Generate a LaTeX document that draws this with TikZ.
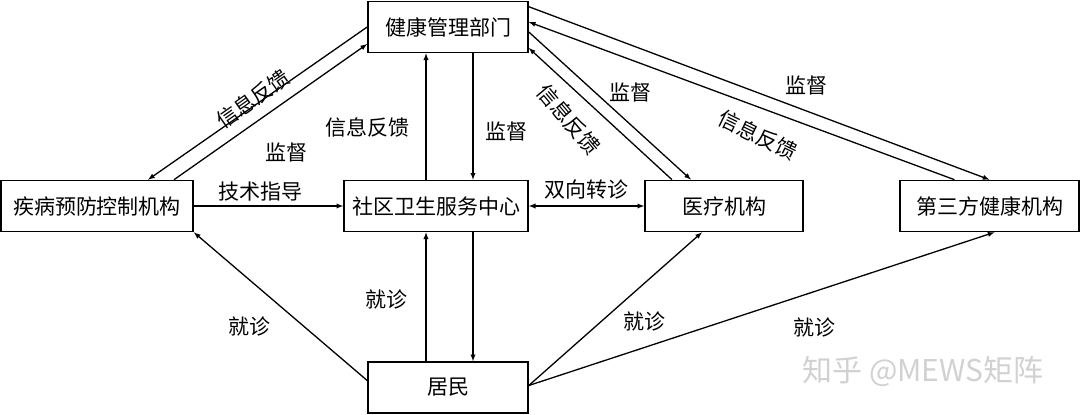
\documentclass[tikz,border=0pt]{standalone}
\usepackage{fontspec}
\setmainfont{Noto Sans CJK SC}
\usetikzlibrary{arrows}
\usetikzlibrary{positioning}

\begin{document}
\begin{tikzpicture}[x=1pt,y=-1pt,>=latex,font=\fontsize{21}{25}\selectfont]
\tikzstyle{box}=[draw,line width=1.6pt,minimum height=51pt,inner sep=0pt]
\tikzstyle{link}=[line width=1.3pt]
\useasboundingbox (0,0) rectangle (1080,415);
\node[box,minimum width=160pt] (dept) at (448,27) {健康管理部门};
\node[box,minimum width=192pt] (cdc) at (97,206) {疾病预防控制机构};
\node[box,minimum width=184pt] (center) at (436,206) {社区卫生服务中心};
\node[box,minimum width=158pt] (hospital) at (724,206) {医疗机构};
\node[box,minimum width=179pt] (third) at (989.5,206) {第三方健康机构};
\node[box,minimum width=160pt] (resident) at (448,387.5) {居民};
\draw[link,->] (dept.west) -- ([xshift=51]cdc.north);
\draw[link,->] ([xshift=77]cdc.north) -- ([yshift=-17]dept.west);
\draw[link,->] ([xshift=-10]center.north) -- ([xshift=-10]center.north |- dept.south);
\draw[link,->] ([xshift=25]dept.south) -- ([xshift=25]dept.south |- center.north);
\draw[link,->] (cdc.east) -- (cdc.east -| center.west);
\draw[link,<->] (center.east) -- (center.east -| hospital.west);
\draw[link,->] ([yshift=-5]dept.east) -- ([xshift=-33]hospital.north);
\draw[link,->] ([xshift=-52]hospital.north) -- ([yshift=-21]dept.east);
\draw[link,->] ([yshift=-6]dept.north east) -- (third.north);
\draw[link,->] ([xshift=-35]third.north) -- ([yshift=5]dept.east);
\draw[link,->] ([xshift=-22]resident.north) -- ([xshift=-22]resident.north |- center.south);
\draw[link,->] ([xshift=37]center.south) -- ([xshift=37]center.south |- resident.north);
\draw[link,->] ([yshift=7]resident.west) -- (cdc.south east);
\draw[link,->] ([yshift=2]resident.east) -- ([xshift=-22]hospital.south);
\draw[link,->] ([yshift=2]resident.east) -- ([xshift=5]third.south);
\node[rotate=35] (fb1) at (253,99) {信息反馈};
\node (sv1) at (286,152) {监督};
\node (fb2) at (367,127) {信息反馈};
\node (sv2) at (506,131) {监督};
\node (guide) at (260,192) {技术指导};
\node (refer) at (586,190) {双向转诊};
\node[rotate=-50] (fb3) at (569,119) {信息反馈};
\node (sv3) at (630,92) {监督};
\node (sv4) at (806,85) {监督};
\node[rotate=-26] (fb4) at (758,135) {信息反馈};
\node (v1) at (386,300) {就诊};
\node (v2) at (249,327) {就诊};
\node (v3) at (644,322) {就诊};
\node (v4) at (814,328) {就诊};
\node[text=black!18,font=\fontsize{30}{34}\selectfont] (mark) at (923,371) {知乎 @MEWS矩阵};
\end{tikzpicture}
\end{document}
